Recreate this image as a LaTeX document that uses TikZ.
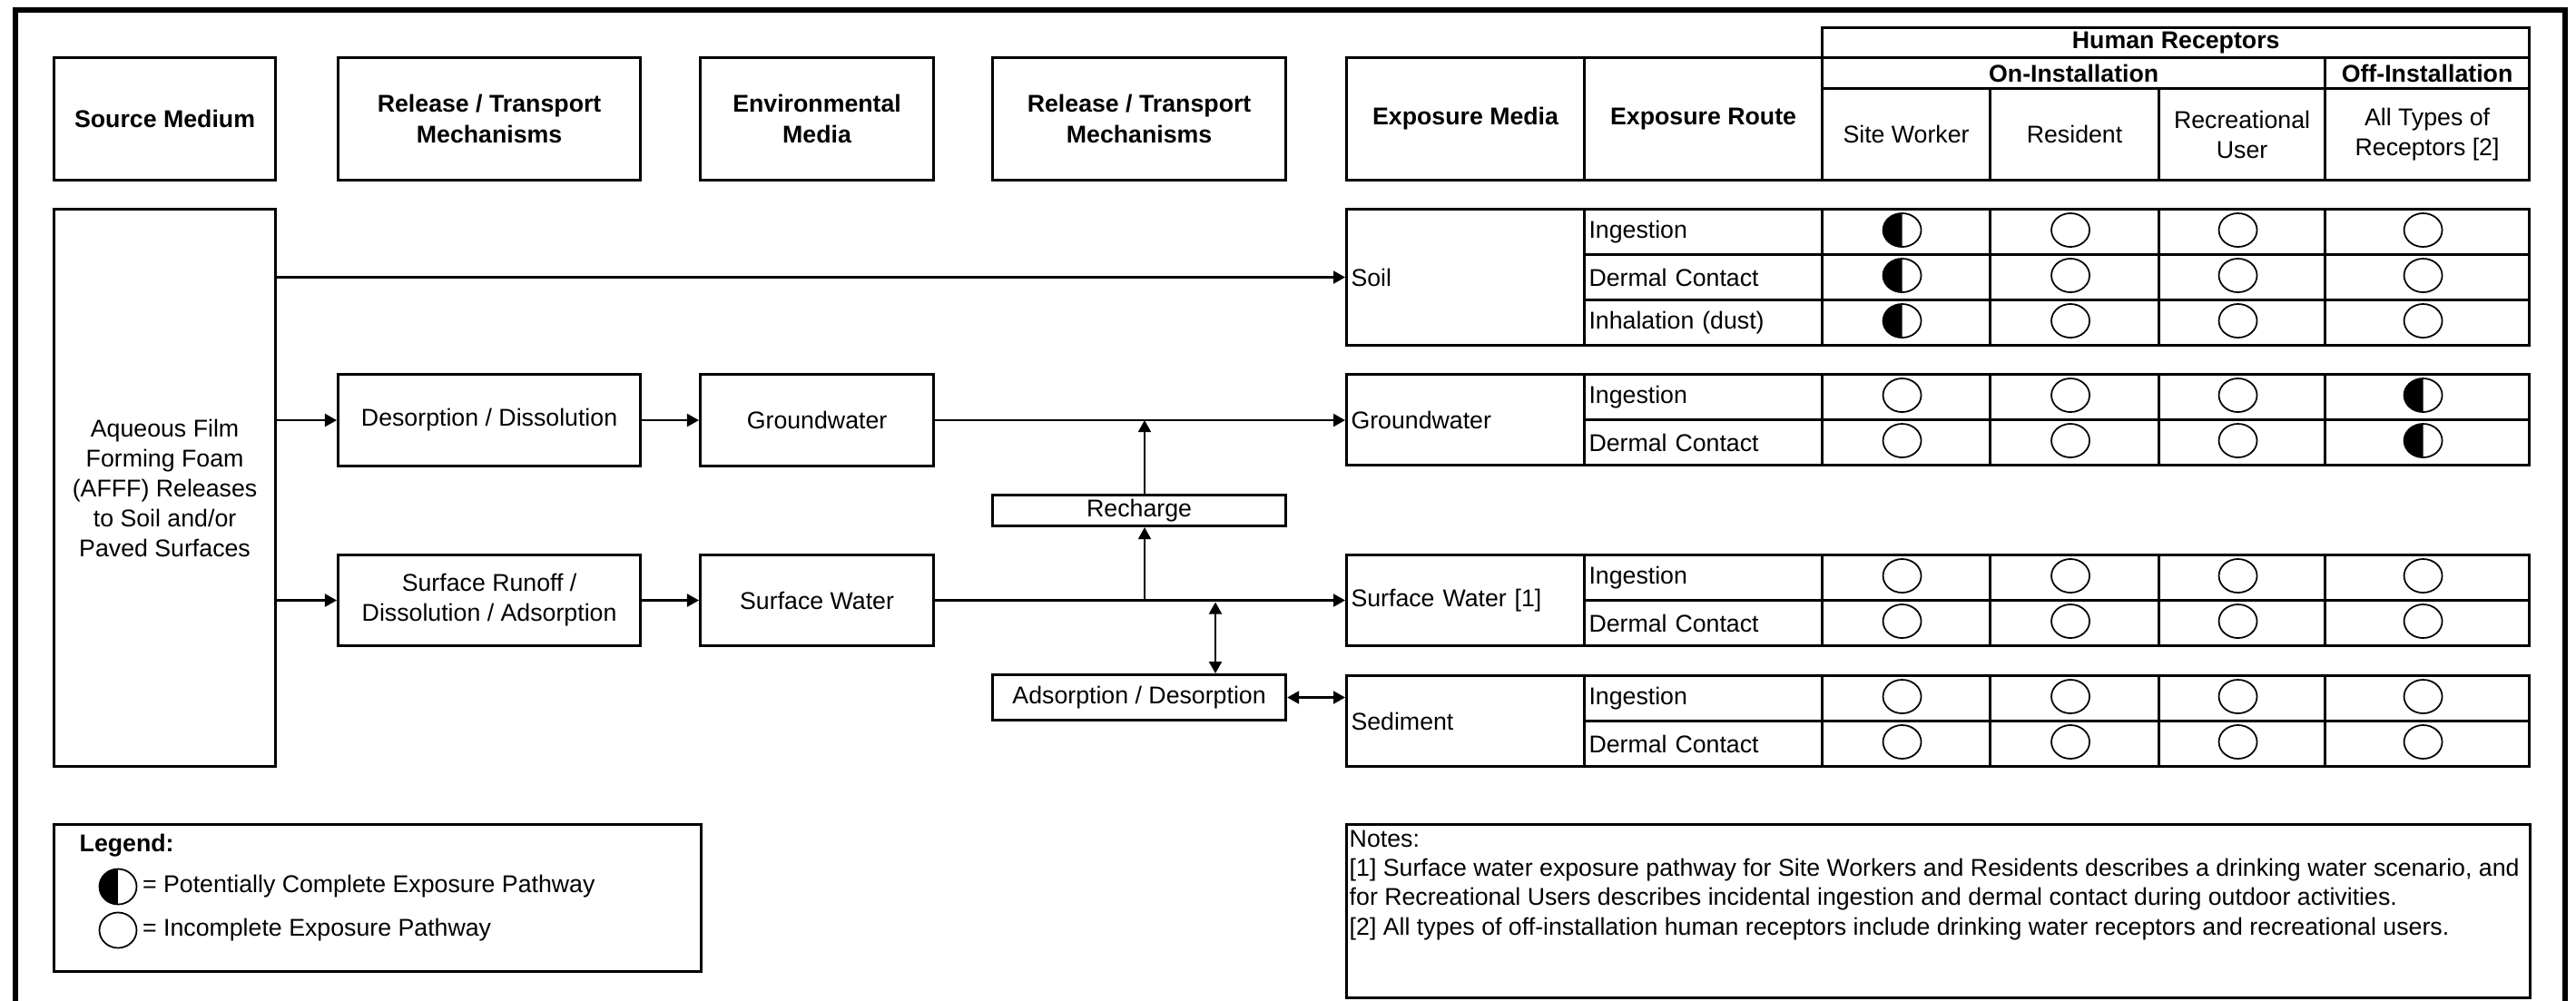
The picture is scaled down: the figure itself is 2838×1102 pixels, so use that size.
\documentclass[tikz,border=0pt]{standalone}
\usepackage{fontspec}
\setmainfont{Liberation Sans}
\usetikzlibrary{arrows.meta,positioning,shapes.geometric}

\begin{document}
\begin{tikzpicture}[
  x=0.01cm, y=-0.01cm,
  font=\fontsize{7.6}{9.4}\selectfont,
  box/.style={draw, line width=0.85pt, anchor=north west, inner sep=0pt, align=center},
  head/.style={box, font=\fontsize{7.6}{9.6}\selectfont\bfseries, minimum height=1.35cm},
  cell/.style={draw, line width=0.85pt, anchor=north west, inner sep=0pt, minimum height=0.5cm},
  medium/.style={cell, align=left, text width=2.52cm, inner xsep=0.05cm, minimum width=2.62cm},
  route/.style={medium},
  incpl/.style={cell, path picture={
    \draw[line width=0.5pt] ([shift={(-0.045cm,0.02cm)}]path picture bounding box.center)
      ellipse [x radius=0.21cm, y radius=0.185cm];}},
  potcpl/.style={cell, path picture={
    \coordinate (ctr) at ([shift={(-0.045cm,0.02cm)}]path picture bounding box.center);
    \fill (ctr) ++(0,0.185cm) arc [start angle=90, end angle=270, x radius=0.21cm, y radius=0.185cm] -- cycle;
    \draw[line width=0.5pt] (ctr) ellipse [x radius=0.21cm, y radius=0.185cm];}},
  keyopen/.style={ellipse, draw, line width=0.5pt, inner sep=0pt, minimum width=0.41cm, minimum height=0.39cm},
  keyfull/.style={keyopen, path picture={
    \fill (path picture bounding box.north west) rectangle (path picture bounding box.south);}},
  flow/.style={-{Triangle[length=0.13cm, width=0.14cm]}, line width=0.6pt},
  both/.style={{Triangle[length=0.13cm, width=0.14cm]}-{Triangle[length=0.13cm, width=0.14cm]}, line width=0.6pt}
]
  \useasboundingbox (0,0) rectangle (2838,1102);
  \draw[line width=1.7pt] (17,1110) |- (2826,11) -- (2826,1110);

  % column headers
  \node[head, minimum width=2.44cm] (srchd)   at (58,62)   {Source Medium};
  \node[head, minimum width=3.33cm] (rel1hd)  at (371,62)  {Release / Transport\\Mechanisms};
  \node[head, minimum width=2.57cm] (envhd)   at (770,62)  {Environmental\\Media};
  \node[head, minimum width=3.23cm] (rel2hd)  at (1092,62) {Release / Transport\\Mechanisms};
  \node[head, minimum width=2.62cm] (medhd)   at (1482,62) {Exposure Media};
  \node[head, minimum width=2.62cm] (routehd) at (1744,62) {Exposure Route};
  \node[head, minimum width=7.79cm, minimum height=0.33cm] (humhd) at (2006,29) {Human Receptors};
  \node[head, minimum width=5.54cm, minimum height=0.34cm] (onhd)  at (2006,62) {On-Installation};
  \node[head, minimum width=2.25cm, minimum height=0.34cm] (offhd) at (2560,62) {Off-Installation};
  \node[box, minimum width=1.85cm, minimum height=1.01cm] (wkhd)  at (2006,96) {Site Worker};
  \node[box, minimum width=1.86cm, minimum height=1.01cm] (reshd) at (2191,96) {Resident};
  \node[box, minimum width=1.83cm, minimum height=1.01cm] (rechd) at (2377,96) {Recreational\\User};
  \node[box, minimum width=2.25cm, minimum height=1.01cm] (allhd) at (2560,96) {All Types of\\Receptors [2]};

  % source and transport
  \node[box, minimum width=2.44cm, minimum height=6.14cm] (afff) at (58,229)
    {Aqueous Film\\Forming Foam\\(AFFF) Releases\\to Soil and/or\\Paved Surfaces};
  \node[box, minimum width=3.33cm, minimum height=1.01cm] (desorb)   at (371,411)  {Desorption / Dissolution};
  \node[box, minimum width=2.57cm, minimum height=1.01cm] (gwbox)    at (770,411)  {Groundwater};
  \node[box, minimum width=3.33cm, minimum height=1.0cm]  (runoff)   at (371,610)  {Surface Runoff /\\Dissolution / Adsorption};
  \node[box, minimum width=2.57cm, minimum height=1.0cm]  (swbox)    at (770,610)  {Surface Water};
  \node[box, minimum width=3.23cm, minimum height=0.34cm] (recharge) at (1092,544) {Recharge};
  \node[box, minimum width=3.23cm, minimum height=0.5cm]  (adsorb)   at (1092,742) {Adsorption / Desorption};

  % soil
  \node[medium, minimum height=1.5cm] (soil) at (1482,229) {Soil};
  \node[route] (soil-r1) at (1744,229) {Ingestion};
  \node[route] (soil-r2) at (1744,279) {Dermal Contact};
  \node[route] (soil-r3) at (1744,329) {Inhalation (dust)};
  \foreach \y in {229,279,329} {
    \node[potcpl, minimum width=1.85cm] (soil-\y-a) at (2006,\y) {};
    \node[incpl,  minimum width=1.86cm] (soil-\y-b) at (2191,\y) {};
    \node[incpl,  minimum width=1.83cm] (soil-\y-c) at (2377,\y) {};
    \node[incpl,  minimum width=2.25cm] (soil-\y-d) at (2560,\y) {};
  }

  % groundwater
  \node[medium, minimum height=1.0cm] (gw) at (1482,411) {Groundwater};
  \node[route] (gw-r1) at (1744,411) {Ingestion};
  \node[route] (gw-r2) at (1744,461) {Dermal Contact};
  \foreach \y in {411,461} {
    \node[incpl,  minimum width=1.85cm] (gw-\y-a) at (2006,\y) {};
    \node[incpl,  minimum width=1.86cm] (gw-\y-b) at (2191,\y) {};
    \node[incpl,  minimum width=1.83cm] (gw-\y-c) at (2377,\y) {};
    \node[potcpl, minimum width=2.25cm] (gw-\y-d) at (2560,\y) {};
  }

  % surface water
  \node[medium, minimum height=1.0cm] (sw) at (1482,610) {Surface Water [1]};
  \node[route] (sw-r1) at (1744,610) {Ingestion};
  \node[route] (sw-r2) at (1744,660) {Dermal Contact};
  \foreach \y in {610,660} {
    \node[incpl, minimum width=1.85cm] (sw-\y-a) at (2006,\y) {};
    \node[incpl, minimum width=1.86cm] (sw-\y-b) at (2191,\y) {};
    \node[incpl, minimum width=1.83cm] (sw-\y-c) at (2377,\y) {};
    \node[incpl, minimum width=2.25cm] (sw-\y-d) at (2560,\y) {};
  }

  % sediment
  \node[medium, minimum height=1.0cm] (sed) at (1482,743) {Sediment};
  \node[route] (sed-r1) at (1744,743) {Ingestion};
  \node[route] (sed-r2) at (1744,793) {Dermal Contact};
  \foreach \y in {743,793} {
    \node[incpl, minimum width=1.85cm] (sed-\y-a) at (2006,\y) {};
    \node[incpl, minimum width=1.86cm] (sed-\y-b) at (2191,\y) {};
    \node[incpl, minimum width=1.83cm] (sed-\y-c) at (2377,\y) {};
    \node[incpl, minimum width=2.25cm] (sed-\y-d) at (2560,\y) {};
  }

  % pathways
  \draw[flow] (afff.east |- soil.west) -- (soil.west);
  \draw[flow] (afff.east |- desorb.west) -- (desorb.west);
  \draw[flow] (desorb) -- (gwbox);
  \draw[flow] (gwbox.east) -- (gwbox.east -| gw.west);
  \draw[flow] (afff.east |- runoff.west) -- (runoff.west);
  \draw[flow] (runoff) -- (swbox);
  \draw[flow] (swbox.east) -- (swbox.east -| sw.west);
  \coordinate (rchg) at (1261,660);
  \draw[flow, line width=0.4pt] (rchg) -- (rchg |- recharge.south);
  \draw[flow, line width=0.4pt] (rchg |- recharge.north) -- (rchg |- gwbox.east);
  \coordinate (adsw) at (1339,660);
  \draw[both, shorten <=1pt] (adsw) -- (adsw |- adsorb.north);
  \draw[both] (adsorb.east) -- (adsorb.east -| sed.west);

  % legend
  \node[box, minimum width=7.13cm, minimum height=1.62cm] (legend) at (58,907) {};
  \node[anchor=west, inner sep=0pt, font=\fontsize{7.6}{9.4}\selectfont\bfseries] (legtitle) at (87,932) {Legend:};
  \node[keyfull] (keyA) at (130,977) {};
  \node[right=0.05cm of keyA, inner sep=0pt] (keyAtxt) {= Potentially Complete Exposure Pathway};
  \node[keyopen] (keyB) at (130,1025) {};
  \node[right=0.05cm of keyB, inner sep=0pt] (keyBtxt) {= Incomplete Exposure Pathway};

  % notes
  \node[box, minimum width=13.03cm, minimum height=1.91cm] (notes) at (1482,907) {};
  \node[anchor=north west, inner sep=0pt, align=left, font=\fontsize{7.6}{9.2}\selectfont] (notetxt) at (1486,914)
    {Notes:\\{}[1] Surface water exposure pathway for Site Workers and Residents describes a drinking water scenario, and\\
     for Recreational Users describes incidental ingestion and dermal contact during outdoor activities.\\
     {}[2] All types of off-installation human receptors include drinking water receptors and recreational users.};
\end{tikzpicture}
\end{document}
